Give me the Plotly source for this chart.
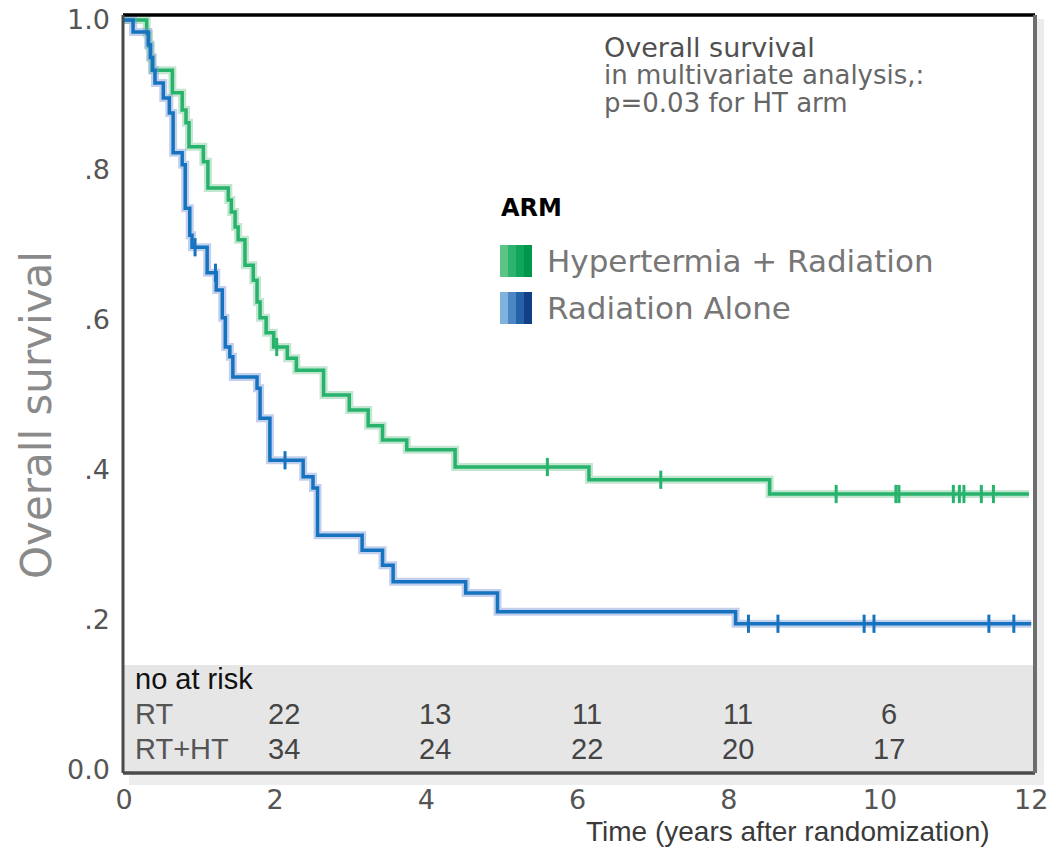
import numpy as np
import plotly.graph_objects as go

# ---------------- data ----------------
ht_t = [0, 0.30, 0.33, 0.35, 0.37, 0.64, 0.77, 0.82, 0.86, 1.05, 1.11, 1.38, 1.42, 1.47, 1.51,
        1.60, 1.71, 1.76, 1.80, 1.88, 1.98, 2.16, 2.28, 2.64, 2.98, 3.23, 3.42, 3.74, 4.38,
        6.15, 8.54, 11.97]
ht_s = [1.0, 0.982, 0.965, 0.950, 0.933, 0.903, 0.880, 0.863, 0.831, 0.811, 0.776, 0.760,
        0.744, 0.724, 0.707, 0.673, 0.653, 0.624, 0.603, 0.583, 0.564, 0.549, 0.533, 0.500,
        0.480, 0.459, 0.440, 0.427, 0.404, 0.387, 0.368, 0.368]
ht_cens = [2.02, 5.60, 7.10, 9.42, 10.21, 10.25, 10.97, 11.05, 11.11, 11.34, 11.50]

rt_t = [0, 0.12, 0.32, 0.35, 0.38, 0.41, 0.52, 0.60, 0.65, 0.77, 0.81, 0.87, 0.90, 1.10,
        1.22, 1.30, 1.34, 1.40, 1.44, 1.76, 1.80, 1.93, 2.37, 2.50, 2.56, 3.15, 3.42, 3.56,
        4.52, 4.94, 8.09, 12.0]
rt_s = [1.0, 0.984, 0.967, 0.950, 0.933, 0.916, 0.896, 0.876, 0.823, 0.807, 0.749, 0.713,
        0.697, 0.663, 0.640, 0.603, 0.564, 0.551, 0.524, 0.509, 0.469, 0.413, 0.391, 0.376,
        0.313, 0.293, 0.273, 0.251, 0.236, 0.211, 0.195, 0.195]
rt_cens = [0.94, 1.21, 2.13, 8.26, 8.65, 9.79, 9.92, 11.44, 11.77]

risk_times = [2, 4, 6, 8, 10]
risk_rt = [22, 13, 11, 11, 6]
risk_rtht = [34, 24, 22, 20, 17]

x_ticks = [0, 2, 4, 6, 8, 10, 12]
y_ticks = [0.0, 0.2, 0.4, 0.6, 0.8, 1.0]
y_ticktext = ["0.0", ".2", ".4", ".6", ".8", "1.0"]

GREEN = "#27b36c"
GREEN_HALO = "rgba(120,200,150,0.45)"
BLUE = "#1673bf"
BLUE_HALO = "rgba(120,150,215,0.45)"

# ---------------- geometry helpers ----------------
W, H = 1056, 849
L, R, T, B = 123, 1035, 15, 773   # plot box in page pixels
def px(xpix):
    return (xpix - L) / (R - L)
def py(ypix):
    return (B - ypix) / (B - T)

def step_at(ts, ss, c):
    i = np.searchsorted(np.array(ts), c, side="right") - 1
    return ss[i]

fig = go.Figure()

for ts, ss, cens, col, halo in [(ht_t, ht_s, ht_cens, GREEN, GREEN_HALO),
                                (rt_t, rt_s, rt_cens, BLUE, BLUE_HALO)]:
    fig.add_trace(go.Scatter(x=ts, y=ss, mode="lines", line=dict(color=halo, width=8, shape="hv"),
                             showlegend=False, hoverinfo="skip"))
    fig.add_trace(go.Scatter(x=ts, y=ss, mode="lines", line=dict(color=col, width=3.5, shape="hv"),
                             showlegend=False))
    fig.add_trace(go.Scatter(x=cens, y=[step_at(ts, ss, c) for c in cens], mode="markers",
                             marker=dict(symbol="line-ns", size=13, line=dict(color=col, width=3)),
                             showlegend=False))

shapes = []
# grey "at risk" band
shapes.append(dict(type="rect", xref="paper", yref="y", x0=0, x1=1, y0=-0.004, y1=0.14,
                   fillcolor="#e6e6e6", line=dict(width=0), layer="below"))
# shadows
shapes.append(dict(type="rect", xref="paper", yref="paper", x0=px(R + 1), x1=px(R + 9), y0=py(B + 6), y1=py(T + 4),
                   fillcolor="#ececec", line=dict(width=0), layer="below"))
shapes.append(dict(type="rect", xref="paper", yref="paper", x0=px(L + 6), x1=px(R + 9), y0=py(B + 12), y1=py(B + 1),
                   fillcolor="#ededed", line=dict(width=0), layer="below"))
# borders
shapes.append(dict(type="line", xref="paper", yref="paper", x0=0, x1=1, y0=1, y1=1, line=dict(color="#000000", width=3.5)))
shapes.append(dict(type="line", xref="paper", yref="paper", x0=0, x1=0, y0=0, y1=1, line=dict(color="#4a4a4a", width=3)))
shapes.append(dict(type="line", xref="paper", yref="paper", x0=0, x1=1, y0=0, y1=0, line=dict(color="#4a4a4a", width=3.5)))
shapes.append(dict(type="line", xref="paper", yref="paper", x0=1, x1=1, y0=0, y1=1, line=dict(color="#6e6e6e", width=4)))

# legend swatches (gradient imitation with strips)
green_strips = ["#5cc487", "#2eb36c", "#0fa55a", "#00964b"]
blue_strips = ["#7fb2dc", "#4a87c4", "#2463a8", "#123f85"]
for k in range(4):
    shapes.append(dict(type="rect", xref="paper", yref="paper", x0=px(500 + 8 * k), x1=px(508 + 8 * k),
                       y0=py(277), y1=py(245), fillcolor=green_strips[k], line=dict(width=0)))
    shapes.append(dict(type="rect", xref="paper", yref="paper", x0=px(500 + 8 * k), x1=px(508 + 8 * k),
                       y0=py(324), y1=py(292), fillcolor=blue_strips[k], line=dict(width=0)))

ann = []
WIDE = "DejaVu Sans, Verdana, sans-serif"
PLAIN = "Liberation Sans, Arial, sans-serif"

# top-right note (one block; line pitch set by the base font size)
note = ("<span style='font-size:27px;color:#505050'>Overall survival</span><br>"
        "<span style='font-size:26px'>in multivariate analysis,:</span><br>"
        "<span style='font-size:26px'>p=0.03 for HT arm</span>")
ann.append(dict(xref="paper", yref="paper", x=px(602), y=py(30), xanchor="left", yanchor="top",
                align="left", text=note, showarrow=False,
                font=dict(family=WIDE, size=21, color="#666666")))
# legend
ann.append(dict(xref="paper", yref="paper", x=px(499), y=py(208), xanchor="left", yanchor="middle",
                text="<b>ARM</b>", showarrow=False, font=dict(family=WIDE, size=24, color="#000000")))
ann.append(dict(xref="paper", yref="paper", x=px(545), y=py(261), xanchor="left", yanchor="middle",
                text="Hypertermia + Radiation", showarrow=False, font=dict(family=WIDE, size=31, color="#777777")))
ann.append(dict(xref="paper", yref="paper", x=px(545), y=py(308), xanchor="left", yanchor="middle",
                text="Radiation Alone", showarrow=False, font=dict(family=WIDE, size=31, color="#777777")))

# axis titles
ann.append(dict(xref="paper", yref="paper", x=px(36), y=py(415), xanchor="center", yanchor="middle",
                text="Overall survival", textangle=-90, showarrow=False,
                font=dict(family=WIDE, size=42, color="#8a8a8a")))
ann.append(dict(xref="paper", yref="paper", x=px(788), y=py(831), xanchor="center", yanchor="middle",
                text="Time (years after randomization)", showarrow=False,
                font=dict(family=PLAIN, size=28, color="#3a3a3a")))

# at-risk table
ann.append(dict(xref="paper", yref="paper", x=px(133), y=py(679), xanchor="left", yanchor="middle",
                text="no at risk", showarrow=False, font=dict(family=PLAIN, size=29, color="#111111")))
ann.append(dict(xref="paper", yref="paper", x=px(133), y=py(714), xanchor="left", yanchor="middle",
                text="RT", showarrow=False, font=dict(family=PLAIN, size=29, color="#555555")))
ann.append(dict(xref="paper", yref="paper", x=px(133), y=py(749), xanchor="left", yanchor="middle",
                text="RT+HT", showarrow=False, font=dict(family=PLAIN, size=29, color="#555555")))
for t, a, b in zip(risk_times, risk_rt, risk_rtht):
    ann.append(dict(xref="x", yref="paper", x=t, y=py(714), xshift=9, xanchor="center", yanchor="middle",
                    text=str(a), showarrow=False, font=dict(family=PLAIN, size=29, color="#444444")))
    ann.append(dict(xref="x", yref="paper", x=t, y=py(749), xshift=9, xanchor="center", yanchor="middle",
                    text=str(b), showarrow=False, font=dict(family=PLAIN, size=29, color="#444444")))

fig.update_layout(
    width=W, height=H,
    margin=dict(l=L, r=W - R, t=T, b=H - B, pad=0, autoexpand=False),
    paper_bgcolor="white", plot_bgcolor="white",
    shapes=shapes, annotations=ann, showlegend=False,
    xaxis=dict(range=[-0.013, 12.05], tickvals=x_ticks, ticktext=[str(v) for v in x_ticks],
               showgrid=False, zeroline=False, showline=False, ticks="", automargin=False,
               ticklabeloverflow="allow",
               tickfont=dict(family=WIDE, size=27, color="#555555"), ticklabelstandoff=8),
    yaxis=dict(range=[-0.004, 1.0067], tickvals=y_ticks, ticktext=y_ticktext,
               showgrid=False, zeroline=False, showline=False, ticks="", automargin=False,
               ticklabeloverflow="allow",
               tickfont=dict(family=WIDE, size=27, color="#555555"), ticklabelstandoff=12),
)

fig.write_html("out.html", config={"displayModeBar": False},
               post_script="document.body.style.margin='0';document.body.style.overflow='hidden';")
